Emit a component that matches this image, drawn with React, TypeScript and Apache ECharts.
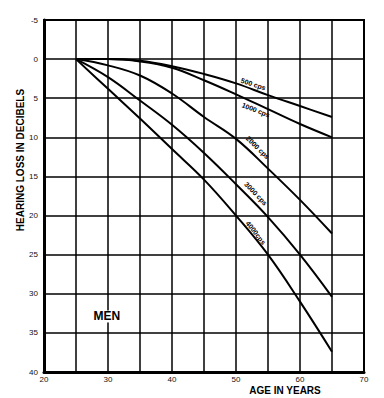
import React, { useEffect, useRef } from 'react';
import * as echarts from 'echarts';

// Age in years (x) and hearing loss in decibels (y) for men
const ages = [25, 30, 35, 40, 45, 50, 55, 60, 65];
const loss500 = [0, 0, 0.2, 0.9, 1.9, 3.1, 4.6, 6.0, 7.4];
const loss1000 = [0, 0, 0.3, 1.1, 2.7, 4.5, 6.4, 8.3, 10.0];
const loss2000 = [0, 0.8, 2.1, 4.4, 7.4, 10.2, 14.0, 18.0, 22.3];
const loss3000 = [0, 2.3, 5.3, 8.4, 12.0, 16.0, 20.2, 25.0, 30.4];
const loss4000 = [0, 3.8, 7.6, 11.5, 15.4, 20.0, 25.0, 31.0, 37.4];

const seriesNames = ['500 cps', '1000 cps', '2000 cps', '3000 cps', '4000cps'];
const seriesValues = [loss500, loss1000, loss2000, loss3000, loss4000];

// where each curve label sits (age, dB) and its slant in degrees
const labelAnchors: [number, number][] = [
  [52.7, 3.2],
  [53.1, 6.5],
  [53.4, 11.3],
  [53.1, 17.2],
  [53.1, 22.2],
];
const labelAngles = [18, 21, 44, 46, 52];

const xTicks = [20, 30, 40, 50, 60, 70];
const yTicks = [-5, 0, 5, 10, 15, 20, 25, 30, 35, 40];

const ink = '#000';

export default function App() {
  const ref = useRef<HTMLDivElement>(null);

  useEffect(() => {
    if (!ref.current) return;
    const chart = echarts.init(ref.current, undefined, { renderer: 'svg' });
    const option: any = {
      animation: false,
      backgroundColor: '#fff',
      grid: {
        left: 44,
        right: 20,
        top: 20,
        bottom: 26,
        show: true,
        borderColor: ink,
        borderWidth: 2,
        outerBoundsMode: 'none',
      },
      xAxis: {
        type: 'value',
        min: 20,
        max: 70,
        interval: 5,
        axisLine: { show: true, onZero: false, lineStyle: { color: ink, width: 3 } },
        axisTick: { show: false },
        splitLine: { show: true, lineStyle: { color: ink, width: 1.5 } },
        axisLabel: {
          margin: 3,
          fontSize: 8,
          fontFamily: 'Liberation Sans, Arial, sans-serif',
          color: '#111',
          formatter: (v: number) => (xTicks.includes(v) ? String(v) : ''),
        },
      },
      yAxis: {
        type: 'value',
        inverse: true,
        min: -5,
        max: 40,
        interval: 5,
        axisLine: { show: true, onZero: false, lineStyle: { color: ink, width: 3 } },
        axisTick: { show: false },
        splitLine: { show: true, lineStyle: { color: ink, width: 1.5 } },
        axisLabel: {
          margin: 6,
          fontSize: 8,
          fontFamily: 'Liberation Sans, Arial, sans-serif',
          color: '#111',
          formatter: (v: number) => (yTicks.includes(v) ? String(v) : ''),
        },
      },
      series: seriesValues.map((vals, i) => ({
        name: seriesNames[i],
        type: 'line',
        data: ages.map((a, j) => [a, vals[j]]),
        smooth: 0.4,
        showSymbol: false,
        lineStyle: { color: ink, width: 2 },
      })),
    };
    chart.setOption(option);

    const texts: any[] = labelAnchors.map((p, i) => {
      const px = chart.convertToPixel({ gridIndex: 0 }, p) as number[];
      return {
        type: 'text',
        x: px[0],
        y: px[1],
        rotation: (-labelAngles[i] * Math.PI) / 180,
        style: {
          text: seriesNames[i],
          fill: ink,
          font: 'bold 7px "Liberation Sans", Arial, sans-serif',
          align: 'center',
          verticalAlign: 'middle',
        },
        z: 10,
      };
    });
    const menPx = chart.convertToPixel({ gridIndex: 0 }, [29.8, 32.9]) as number[];
    chart.setOption({
      graphic: [
        ...texts,
        {
          type: 'text',
          x: 20,
          y: 160,
          rotation: Math.PI / 2,
          style: {
            text: 'HEARING LOSS IN DECIBELS',
            fill: ink,
            font: 'bold 10px "Liberation Sans", Arial, sans-serif',
            align: 'center',
            verticalAlign: 'middle',
          },
        },
        {
          type: 'text',
          x: 285,
          y: 390,
          style: {
            text: 'AGE IN YEARS',
            fill: ink,
            font: 'bold 10px "Liberation Sans", Arial, sans-serif',
            align: 'center',
            verticalAlign: 'middle',
          },
        },
        {
          type: 'text',
          x: menPx[0],
          y: menPx[1],
          style: {
            text: 'MEN',
            fill: ink,
            font: 'bold 12px "Liberation Sans", Arial, sans-serif',
            align: 'center',
            verticalAlign: 'middle',
            backgroundColor: '#fff',
          },
          z: 10,
        },
      ],
    });

    return () => chart.dispose();
  }, []);

  return (
    <div
      ref={ref}
      style={{ position: 'fixed', left: 0, top: 0, width: 384, height: 398, background: '#fff' }}
    />
  );
}
